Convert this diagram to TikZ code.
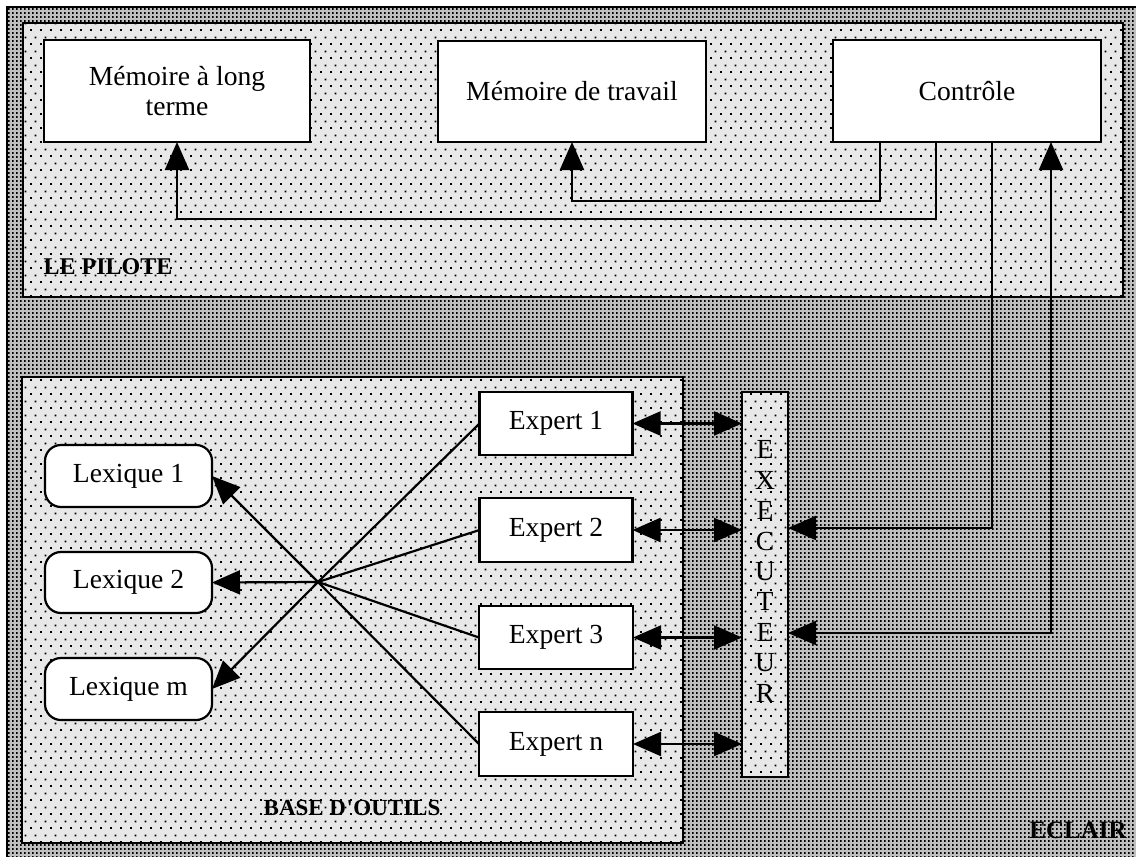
\documentclass[tikz,border=0pt]{standalone}
\usepackage{fontspec}
\setmainfont{Liberation Serif}
\usetikzlibrary{arrows.meta,patterns}

% sparse staggered dots for the inner zones
\pgfdeclarepatternformonly{innerdots}{\pgfqpoint{0pt}{0pt}}{\pgfqpoint{5pt}{7pt}}{\pgfqpoint{5pt}{7pt}}{%
  \pgfpathrectangle{\pgfqpoint{0pt}{0pt}}{\pgfqpoint{1pt}{1pt}}%
  \pgfpathrectangle{\pgfqpoint{2.5pt}{3.5pt}}{\pgfqpoint{1pt}{1pt}}%
  \pgfusepath{fill}}
% dense dot grid for the system background
\pgfdeclarepatternformonly{outerdots}{\pgfqpoint{0pt}{0pt}}{\pgfqpoint{2pt}{2.2pt}}{\pgfqpoint{2pt}{2.2pt}}{%
  \pgfpathrectangle{\pgfqpoint{0pt}{0pt}}{\pgfqpoint{1pt}{1pt}}%
  \pgfusepath{fill}}

\tikzset{
  zone/.style={draw, line width=1.1pt, fill=gray!18, postaction={pattern=innerdots},
    inner sep=0pt, outer sep=0pt},
  whitebox/.style={draw, line width=1.1pt, fill=white, inner sep=0pt, outer sep=0pt,
    font=\fontsize{13.8}{15}\selectfont, align=center},
  lexbox/.style={whitebox, rounded corners=8pt},
  conn/.style={line width=1.1pt},
  tip/.tip={Triangle[length=14pt,width=12pt]},
  arr/.style={conn, -tip},
  darr/.style={conn, tip-tip},
  tag/.style={font=\bfseries\fontsize{12}{12}\selectfont, inner sep=0pt},
}

\begin{document}
\begin{tikzpicture}[x=0.5pt, y=-0.5pt]
  \useasboundingbox (0,0) rectangle (1136,857);
  \fill[white] (0,0) rectangle (1136,857);

  % ECLAIR system frame
  \path[draw, line width=1.1pt, fill=gray!50, postaction={pattern=outerdots}]
    (7,7) rectangle (1150,870);

  % zones
  \node[zone, minimum width=550pt, minimum height=137pt] (pilote) at (573,160) {};
  \node[zone, minimum width=330.5pt, minimum height=233pt] (base) at (352.5,610) {};
  \node[zone, minimum width=23pt, minimum height=192.5pt] (exec) at (765,584.5) {};
  \node[font=\fontsize{13.8}{15.2}\selectfont, align=center, inner sep=0pt] (exectxt)
    at ([yshift=6.5pt]exec.center) {E\\X\\E\\C\\U\\T\\E\\U\\R};

  % zone titles
  \node[tag] (tpilote) at (108,267) {LE PILOTE};
  \node[tag, font=\bfseries\fontsize{11.5}{12}\selectfont] (tbase) at (352,808)
    {BASE D\kern0.02em\textquotesingle\kern0.02em OUTILS};
  \node[tag, font=\bfseries\fontsize{12.5}{13}\selectfont] (teclair) at (1078,830) {ECLAIR};

  % pilot components
  \node[whitebox, minimum width=133pt, minimum height=51pt] (mlt) at (177,91) {Mémoire à long\\terme};
  \node[whitebox, minimum width=134pt, minimum height=50.5pt] (mdt) at (572,91.5) {Mémoire de travail};
  \node[whitebox, minimum width=134pt, minimum height=51pt] (ctrl) at (967,91) {Contrôle};

  % experts
  \node[whitebox, minimum width=76.5pt, minimum height=31.5pt] (e1) at (556,423.5) {Expert 1};
  \node[whitebox, minimum width=76.5pt, minimum height=32pt] (e2) at (556,530) {Expert 2};
  \node[whitebox, minimum width=77pt, minimum height=31.5pt] (e3) at (556,637.5) {Expert 3};
  \node[whitebox, minimum width=77pt, minimum height=32pt] (en) at (556,744) {Expert n};

  % lexicons
  \node[lexbox, minimum width=83.5pt, minimum height=31pt] (l1) at (128.5,476) {Lexique 1};
  \node[lexbox, minimum width=83.5pt, minimum height=30.5pt] (l2) at (128.5,582.5) {Lexique 2};
  \node[lexbox, minimum width=83.5pt, minimum height=31pt] (lm) at (128.5,689) {Lexique m};

  % routing points
  \coordinate (k1) at (880,201);
  \coordinate (k2) at (936,219);
  \coordinate (k3) at (992,528);
  \coordinate (k4) at (1051,633);
  \coordinate (hub) at (318,582);

  % control inside the pilot
  \draw[arr] (ctrl.south -| k1) |- (k1 -| mdt.south) -- (mdt.south);
  \draw[arr] (ctrl.south -| k2) |- (k2 -| mlt.south) -- (mlt.south);

  % control to the executor
  \draw[arr] (ctrl.south -| k3) |- (exec.east |- k3);
  \draw[darr] (ctrl.south -| k4) |- (exec.east |- k4);

  % experts to the executor
  \foreach \e in {e1,e2,e3,en}
    \draw[darr] (\e.east) -- (\e.east -| exec.west);

  % experts to lexicons
  \foreach \e in {e1,e2,e3,en}
    \draw[conn] (hub) -- (\e.west);
  \draw[arr] (hub) -- (l1.east);
  \draw[arr] (hub) -- (l2.east);
  \draw[arr] (hub) -- (lm.east);
\end{tikzpicture}
\end{document}
